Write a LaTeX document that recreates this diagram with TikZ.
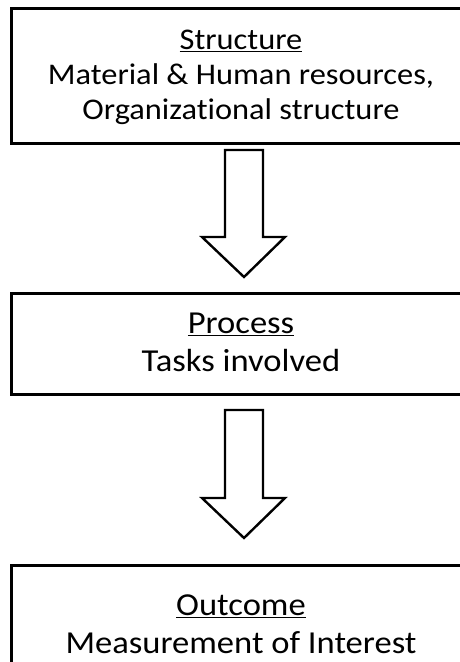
\documentclass[tikz,border=0pt]{standalone}
\usepackage{fontspec}
\setmainfont[Ligatures=NoCommon, FakeStretch=1.08]{Carlito}
\usetikzlibrary{calc}

\tikzset{
  stagebox/.style={draw=black, line width=3pt, fill=none},
  stagetext/.style={align=center, inner sep=0pt},
  blockarrow/.style={draw=black, line width=2.4pt, fill=white, line join=miter},
}

% hollow down-pointing block arrow from #1 (top centre) to #2 (tip)
\newcommand{\hollowarrow}[2]{%
  \draw[blockarrow]
    let \p1=(#1), \p2=(#2) in
    (\x1-19pt,\y1) -- (\x1+19pt,\y1) -- (\x1+19pt,\y2+40pt)
    -- (\x1+41pt,\y2+40pt) -- (\x2,\y2) -- (\x1-42pt,\y2+40pt)
    -- (\x1-19pt,\y2+40pt) -- cycle;}

\begin{document}
\begin{tikzpicture}[x=1pt, y=1pt]
  \useasboundingbox (0,0) rectangle (459,-662);

  % the three stages, each box runs off the right edge
  \draw[stagebox] (11,-8) rectangle (472,-143);
  \draw[stagebox] (11,-293) rectangle (472,-394);
  \draw[stagebox] (11,-565) rectangle (472,-680);

  \node[stagetext, font=\fontsize{30}{35}\selectfont] (structure) at (241,-77)
    {\underline{Structure}\\Material \& Human resources,\\Organizational structure};
  \node[stagetext, font=\fontsize{32}{38}\selectfont] (process) at (241,-342)
    {\underline{Process}\\Tasks involved};
  \node[stagetext, font=\fontsize{32}{38}\selectfont] (outcome) at (241,-624)
    {\underline{Outcome}\\Measurement of Interest};

  % flow between stages
  \coordinate (a1top) at (244,-150);
  \coordinate (a1tip) at (244,-277);
  \coordinate (a2top) at (244,-410);
  \coordinate (a2tip) at (244,-538);
  \hollowarrow{a1top}{a1tip}
  \hollowarrow{a2top}{a2tip}
\end{tikzpicture}
\end{document}
